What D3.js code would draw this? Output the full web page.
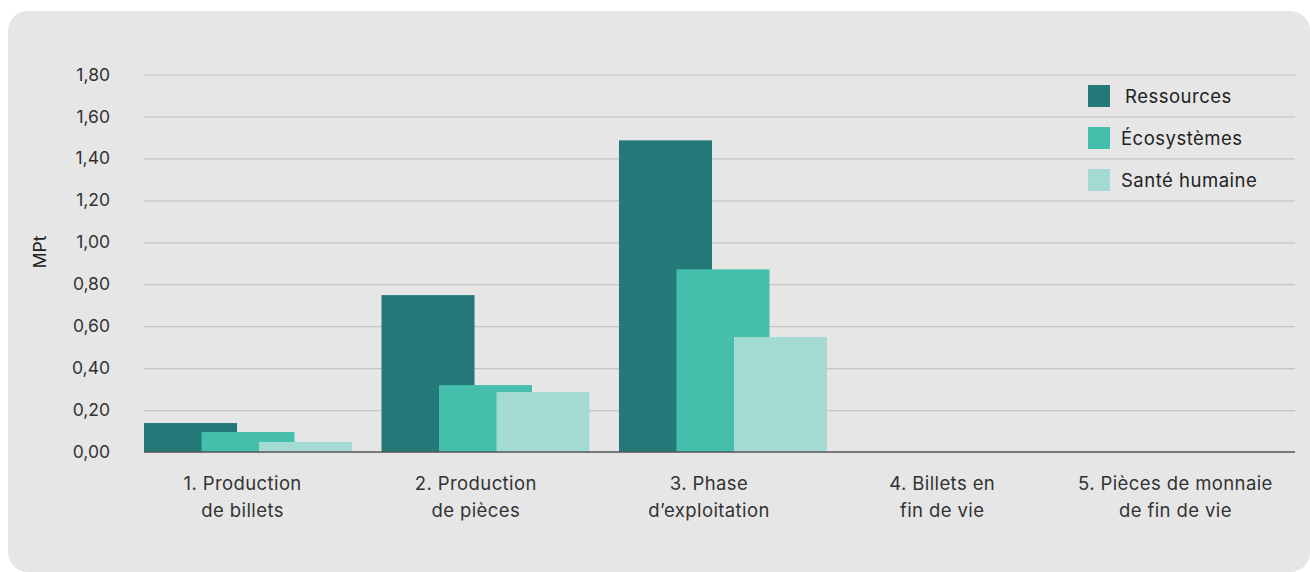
<!DOCTYPE html>
<html>
<head>
<meta charset="utf-8">
<script src="https://cdn.jsdelivr.net/npm/d3@7"></script>
<style>
	body{margin:0;background:#fff;}
	svg{display:block;font-family:Inter, "Noto Sans", sans-serif;}
</style>
</head>
<body>
<svg id="chart" width="1310" height="572"></svg>
<script>
// categories & values (MPt)
var categories = ['1. Production|de billets', '2. Production|de pièces', '3. Phase|d’exploitation', '4. Billets en|fin de vie', '5. Pièces de monnaie|de fin de vie'];
var series = ['Ressources', 'Écosystèmes', 'Santé humaine'];
var ressources = [0.138, 0.748, 1.486, 0, 0];
var ecosystemes = [0.095, 0.319, 0.871, 0, 0];
var santeHumaine = [0.048, 0.286, 0.548, 0, 0];
var yTicks = [0, 0.2, 0.4, 0.6, 0.8, 1.0, 1.2, 1.4, 1.6, 1.8];
var colors = ['#237878', '#45bfac', '#a3dbd3'];

var svg = d3.select('#chart');

//panel background
svg.append('rect')
	.attr('x', 8).attr('y', 11)
	.attr('width', 1302).attr('height', 561)
	.attr('rx', 20).attr('ry', 20)
	.attr('fill', '#e6e6e6');

//plot area (window.top is reserved, so no "top")
var plotL = 144, plotR = 1295, plotT = 74.5, plotB = 452;

var y = d3.scaleLinear().domain([0, 1.8]).range([plotB, plotT]);
//bar groups, step ~237 px (series overlap inside a group)
var x0 = d3.scaleBand().domain(categories).range([plotL, plotL + 5 * 237.5]).paddingInner(0).paddingOuter(0);
var x1 = d3.scalePoint().domain(series).range([0, 115]);
var barW = 93;
//label positions
var xl = d3.scaleBand().domain(categories).range([126, 1292]);

var fmt = function(d){ return d3.format('.2f')(d).replace('.', ','); };

//gridlines + tick labels
var yAxis = d3.axisLeft(y).tickValues(yTicks).tickSize(-(plotR - plotL)).tickFormat(fmt).tickPadding(34);
var gy = svg.append('g').attr('transform', 'translate(' + plotL + ',0)').call(yAxis);
gy.select('.domain').remove();
gy.selectAll('.tick line').attr('stroke', '#c4c4c4').attr('stroke-width', 1.2);
gy.selectAll('.tick text').attr('fill', '#333').style('font-size', '17.5px').style('font-family', 'Inter, sans-serif');

//bars
var data = [ressources, ecosystemes, santeHumaine];
series.forEach(function(s, i){
	svg.append('g').selectAll('rect')
		.data(categories.map(function(c, j){ return {cat: c, value: data[i][j]}; }))
		.enter().append('rect')
		.attr('x', function(d){ return x0(d.cat) + x1(s); })
		.attr('y', function(d){ return y(d.value); })
		.attr('width', barW)
		.attr('height', function(d){ return plotB - y(d.value); })
		.attr('fill', colors[i]);
});

//baseline
svg.append('line')
	.attr('x1', plotL).attr('x2', plotR)
	.attr('y1', plotB).attr('y2', plotB)
	.attr('stroke', '#5a5a5a').attr('stroke-width', 1.5);

//x labels
categories.forEach(function(c){
	var lines = c.split('|');
	var t = svg.append('text')
		.attr('text-anchor', 'middle')
		.attr('fill', '#333')
		.style('font-size', '18.5px')
		.style('letter-spacing', '0.4px');
	lines.forEach(function(l, k){
		t.append('tspan')
			.attr('x', xl(c) + xl.bandwidth() / 2)
			.attr('y', 490 + k * 26.5)
			.text(l);
	});
});

//y title
svg.append('text')
	.attr('transform', 'translate(46,252) rotate(-90)')
	.attr('text-anchor', 'middle')
	.attr('fill', '#222')
	.style('font-size', '17.5px')
	.text('MPt');

//legend
var legend = svg.append('g').attr('transform', 'translate(1088,85)');
series.forEach(function(s, i){
	var g = legend.append('g').attr('transform', 'translate(0,' + (i * 42) + ')');
	g.append('rect').attr('width', 22).attr('height', 22).attr('fill', colors[i]);
	g.append('text')
		.attr('x', i === 0 ? 37 : 33).attr('y', 18)
		.attr('fill', '#222')
		.style('font-size', '18.5px')
		.style('letter-spacing', '0.5px')
		.text(s);
});
</script>
</body>
</html>
